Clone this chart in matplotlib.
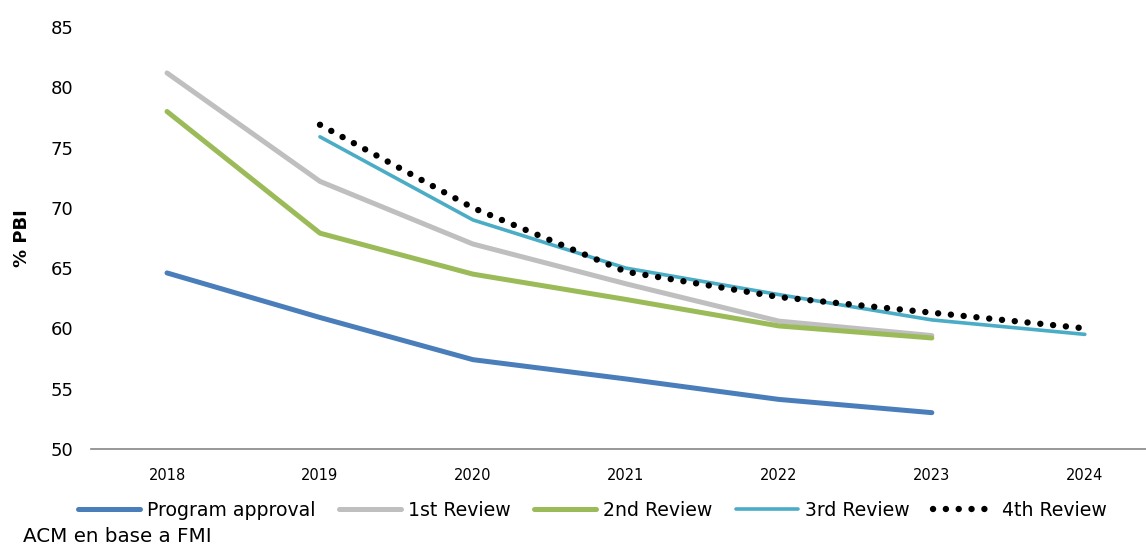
import matplotlib.pyplot as plt

years = [2018, 2019, 2020, 2021, 2022, 2023, 2024]

program_approval = [64.6, 60.9, 57.4, 55.8, 54.1, 53.0, None]
first_review = [81.2, 72.2, 67.0, 63.7, 60.6, 59.4, None]
second_review = [78.0, 67.9, 64.5, 62.4, 60.2, 59.2, None]
third_review = [None, 75.9, 69.0, 65.0, 62.8, 60.7, 59.5]
fourth_review = [None, 76.9, 70.0, 64.7, 62.6, 61.3, 60.0]

y_ticks = [50, 55, 60, 65, 70, 75, 80, 85]


def pairs(vals):
    xs = [x for x, v in zip(years, vals) if v is not None]
    ys = [v for v in vals if v is not None]
    return xs, ys


plt.rcParams['font.family'] = ['DejaVu Sans']
fig = plt.figure(figsize=(11.46, 5.44), dpi=100)
ax = fig.add_axes([0.079, 0.175, 0.921, 0.775])

ax.plot(*pairs(program_approval), color='#4a7ebb', lw=3.6, solid_capstyle='round', label='Program approval')
ax.plot(*pairs(first_review), color='#bfbfbf', lw=3.6, solid_capstyle='round', label='1st Review')
ax.plot(*pairs(second_review), color='#9bbb59', lw=3.6, solid_capstyle='round', label='2nd Review')
ax.plot(*pairs(third_review), color='#4bacc6', lw=2.6, solid_capstyle='round', label='3rd Review')
ax.plot(*pairs(fourth_review), color='black', lw=4.6, linestyle=(0, (0.01, 2.0)),
        dash_capstyle='round', label='4th Review')

ax.set_xlim(2017.5, 2024.4)
ax.set_ylim(50, 85)
ax.set_xticks(years)
ax.set_xticklabels([str(y) for y in years], fontsize=10.5)
ax.set_yticks(y_ticks)
ax.set_yticklabels([str(t) for t in y_ticks], fontsize=13)
ax.tick_params(axis='both', length=0)
ax.tick_params(axis='x', pad=14)
ax.tick_params(axis='y', pad=12.5)
ax.set_ylabel('% PBI', fontsize=13, fontweight='bold', labelpad=14)

for s in ['top', 'right', 'left']:
    ax.spines[s].set_visible(False)
ax.spines['bottom'].set_color('#868686')
ax.spines['bottom'].set_linewidth(1.2)

leg = fig.legend(loc='center', bbox_to_anchor=(0.517, 0.062), ncol=5, frameon=False,
                 fontsize=13.6, handlelength=3.3, handletextpad=0.35, columnspacing=1.25)

fig.text(0.02, 0.014, 'ACM en base a FMI', fontsize=14.3, ha='left', va='center')

fig.savefig('out.png', dpi=100)
